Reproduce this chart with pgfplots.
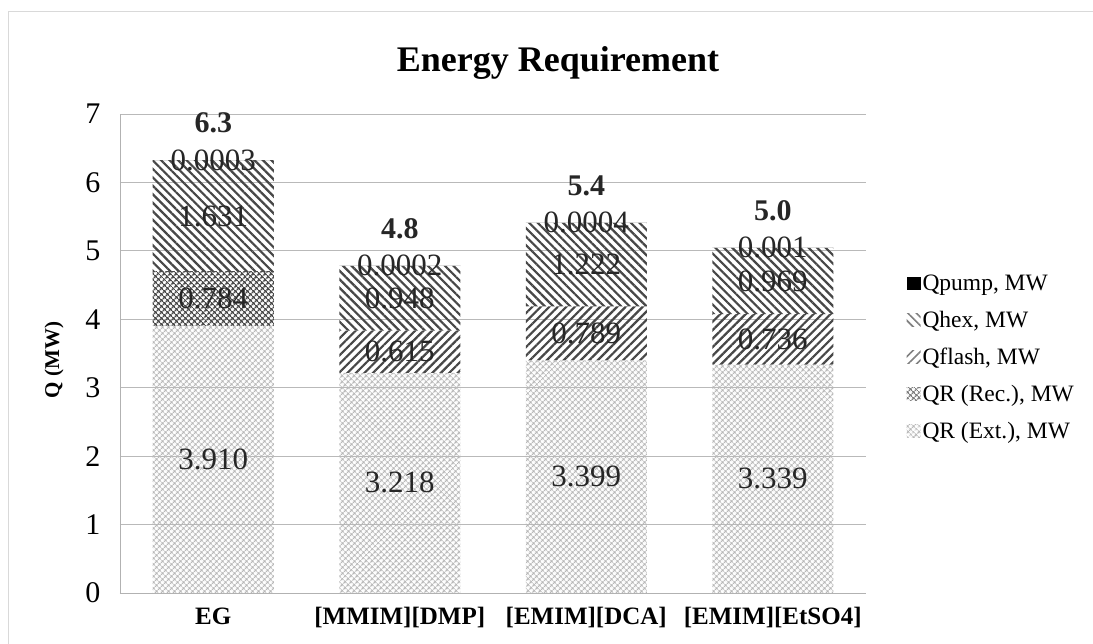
\documentclass[border=0pt]{standalone}
\usepackage{fontspec}
\setmainfont{Liberation Serif}
\usepackage{pgfplots}
\usepackage{pgfplotstable}
\pgfplotsset{compat=1.18}
\usetikzlibrary{patterns,patterns.meta}

\pgfplotstableread{
x ext rec flash hex pump
0 3.910 0.784 0     1.631 0.0003
1 3.218 0     0.615 0.948 0.0002
2 3.399 0     0.789 1.222 0.0004
3 3.339 0     0.736 0.969 0.001
}\stackdata

\pgfplotstableread{
x y label
0 1.955 3.910
0 4.302 0.784
0 5.5095 1.631
0 6.325 0.0003
1 1.609 3.218
1 3.5255 0.615
1 4.307 0.948
1 4.781 0.0002
2 1.6995 3.399
2 3.7935 0.789
2 4.799 1.222
2 5.410 0.0004
3 1.6695 3.339
3 3.707 0.736
3 4.5595 0.969
3 5.045 0.001
}\seglabels

\pgfplotstableread{
x y label
0 6.325 6.3
1 4.781 4.8
2 5.410 5.4
3 5.045 5.0
}\totals

\begin{document}
\begin{tikzpicture}[x=1pt,y=1pt]
\path[use as bounding box] (0,0) rectangle (1093,644);
\draw[gray!30, line width=1pt] (8,0) -- (8,632) -- (1093,632);
\node[font=\fontsize{36}{40}\selectfont\bfseries, anchor=base] at (558,572) {Energy Requirement};

\begin{axis}[
  at={(120pt,51pt)}, anchor=south west,
  scale only axis, width=746pt, height=479pt,
  xmin=-0.5, xmax=3.5, ymin=0, ymax=7,
  ybar stacked, bar width=121pt,
  xtick={0,1,2,3},
  xticklabels={EG,{[MMIM][DMP]},{[EMIM][DCA]},{[EMIM][EtSO4]}},
  ytick={0,1,2,3,4,5,6,7},
  major tick length=0pt,
  ymajorgrids, grid style={gray!55, line width=0.8pt},
  axis x line*=bottom, axis y line*=left,
  axis line style={gray!60, line width=0.8pt, -},
  /pgf/number format/assume math mode=true,
  yticklabel style={font=\fontsize{30}{33}\selectfont, xshift=-16pt},
  xticklabel style={font=\fontsize{25}{28}\selectfont\bfseries, yshift=-11pt},
  ylabel={Q (MW)},
  ylabel style={font=\fontsize{21}{24}\selectfont\bfseries, at={(axis description cs:-0.0885,0.486)}, anchor=center},
  legend style={at={(rel axis cs:1.05,0.672)}, anchor=north west, draw=none, fill=none,
    font=\fontsize{23.5}{27}\selectfont, row sep=15pt},
  legend cell align=left,
  reverse legend,
]
\addplot[draw=none, pattern={Hatch[angle=45,distance=4pt,line width=1.2pt]}, pattern color=black!28,
  legend image code/.code={\path (0pt,-6.5pt) rectangle (14pt,6.5pt);}]
  table[x=x, y=ext] {\stackdata};
\addlegendentry{QR (Ext.), MW}
\addplot[draw=none, pattern={Hatch[angle=45,distance=4pt,line width=1.5pt]}, pattern color=black!70,
  legend image code/.code={\fill[pattern={Hatch[angle=45,distance=4pt,line width=1.3pt]}, pattern color=black!50] (0pt,-6.5pt) rectangle (14pt,6.5pt);}]
  table[x=x, y=rec] {\stackdata};
\addlegendentry{QR (Rec.), MW}
\addplot[draw=none, pattern={Lines[angle=45,distance=6pt,line width=2.2pt]}, pattern color=black!72,
  legend image code/.code={\fill[pattern={Lines[angle=45,distance=6pt,line width=1.6pt]}, pattern color=black!50] (0pt,-6.5pt) rectangle (14pt,6.5pt);}]
  table[x=x, y=flash] {\stackdata};
\addlegendentry{Qflash, MW}
\addplot[draw=none, pattern={Lines[angle=-45,distance=6pt,line width=2.2pt]}, pattern color=black!72,
  legend image code/.code={\fill[pattern={Lines[angle=-45,distance=6pt,line width=1.6pt]}, pattern color=black!50] (0pt,-6.5pt) rectangle (14pt,6.5pt);}]
  table[x=x, y=hex] {\stackdata};
\addlegendentry{Qhex, MW}
\addplot[draw=none, fill=black,
  legend image code/.code={\fill[black] (0pt,-6.5pt) rectangle (14pt,6.5pt);}]
  table[x=x, y=pump] {\stackdata};
\addlegendentry{Qpump, MW}
\end{axis}

\begin{axis}[
  at={(120pt,51pt)}, anchor=south west,
  scale only axis, width=746pt, height=479pt,
  xmin=-0.5, xmax=3.5, ymin=0, ymax=7,
  hide axis, clip=false,
]
\addplot[draw=none, mark=none, nodes near coords, point meta=explicit symbolic,
  every node near coord/.append style={anchor=center, font=\fontsize{31}{34}\selectfont, text=black!85}]
  table[x=x, y=y, meta=label] {\seglabels};
\addplot[draw=none, mark=none, nodes near coords, point meta=explicit symbolic,
  every node near coord/.append style={anchor=center, yshift=37pt, font=\fontsize{30}{34}\selectfont\bfseries, text=black!85}]
  table[x=x, y=y, meta=label] {\totals};
\end{axis}
\end{tikzpicture}
\end{document}
